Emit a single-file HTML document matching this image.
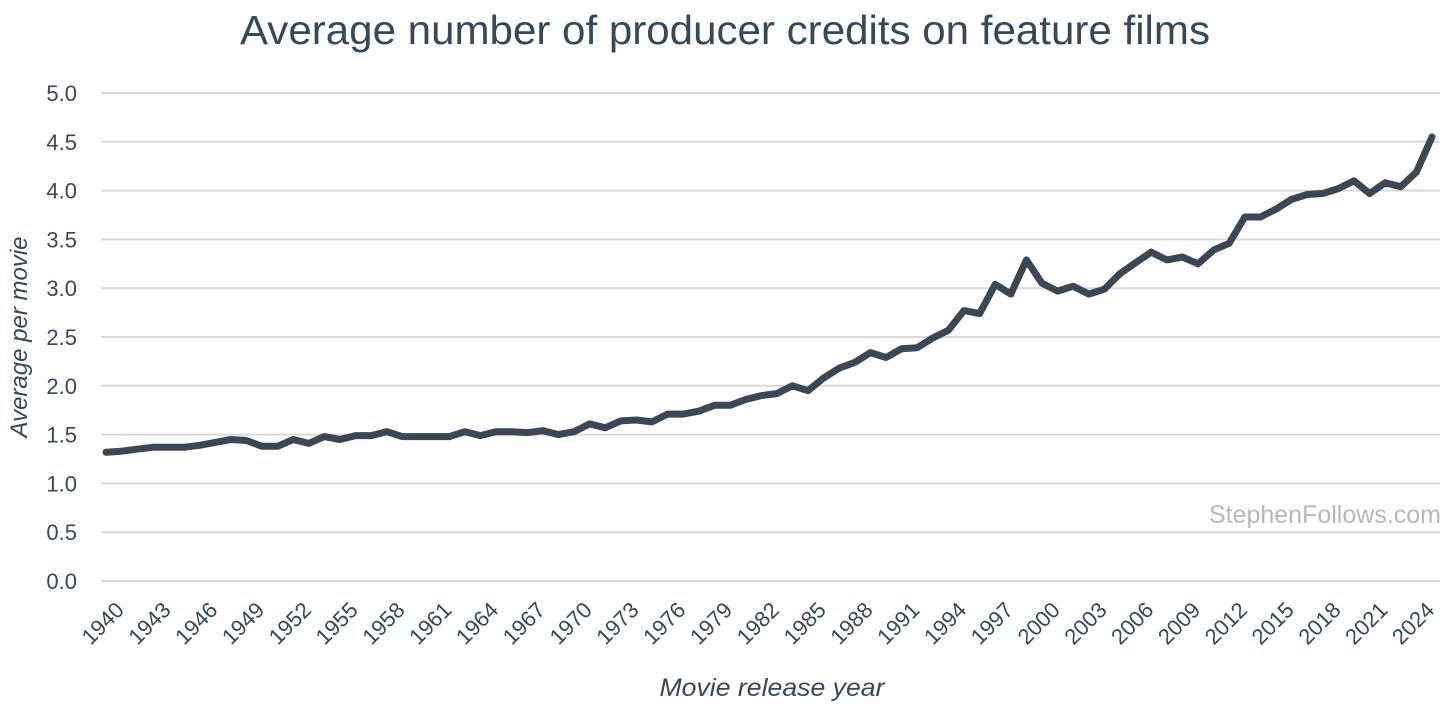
<!DOCTYPE html>
<html><head><meta charset="utf-8"><style>
html,body{margin:0;padding:0;background:#fff;}
svg{display:block;font-family:"Liberation Sans",sans-serif;}
</style></head><body>
<svg id="chart" width="1456" height="709" viewBox="0 0 1456 709">
<text x="725" y="44" text-anchor="middle" font-size="41" fill="#34495e" textLength="970" lengthAdjust="spacingAndGlyphs">Average number of producer credits on feature films</text>
<g id="grid"></g><g id="ylabels"></g><g id="xlabels"></g>
<text transform="translate(27,337) rotate(-90)" text-anchor="middle" font-size="24" font-style="italic" fill="#34495e">Average per movie</text>
<text x="772" y="696" text-anchor="middle" font-size="25" font-style="italic" fill="#34495e" textLength="225" lengthAdjust="spacingAndGlyphs">Movie release year</text>
<text x="1441" y="523" text-anchor="end" font-size="25" fill="#b8b8b8">StephenFollows.com</text>
<path id="line" fill="none" stroke="#3a4856" stroke-width="7" stroke-linejoin="round" stroke-linecap="round"></path>
</svg>
<script>
const startYear = 1940;
const values = [1.32,1.33,1.35,1.37,1.37,1.37,1.39,1.42,1.45,1.44,1.38,1.38,1.45,1.41,1.48,1.45,1.49,1.49,1.53,1.48,1.48,1.48,1.48,1.53,1.49,1.53,1.53,1.52,1.54,1.50,1.53,1.61,1.57,1.64,1.65,1.63,1.71,1.71,1.74,1.80,1.80,1.86,1.90,1.92,2.00,1.95,2.08,2.18,2.24,2.34,2.29,2.38,2.39,2.49,2.57,2.77,2.74,3.04,2.94,3.29,3.05,2.97,3.02,2.94,2.99,3.15,3.26,3.37,3.29,3.32,3.25,3.39,3.46,3.73,3.73,3.81,3.91,3.96,3.97,4.02,4.10,3.97,4.08,4.04,4.19,4.55];
const yTicks = ["0.0","0.5","1.0","1.5","2.0","2.5","3.0","3.5","4.0","4.5","5.0"];
const xTickStep = 3;

const NS = "http://www.w3.org/2000/svg";
const x0 = 106, x1 = 1432, yBase = 581, yTop = 93, yMax = 5;
function xs(i){ return x0 + (x1 - x0) * i / (values.length - 1); }
function ys(v){ return yBase - (yBase - yTop) * v / yMax; }
const grid = document.getElementById('grid'), yl = document.getElementById('ylabels'), xl = document.getElementById('xlabels');
yTicks.forEach(t => {
  const v = parseFloat(t);
  const ln = document.createElementNS(NS,'line');
  ln.setAttribute('x1',101); ln.setAttribute('x2',1440);
  ln.setAttribute('y1',ys(v)); ln.setAttribute('y2',ys(v));
  ln.setAttribute('stroke','#d9d9d9'); ln.setAttribute('stroke-width','2');
  
  
  grid.appendChild(ln);
  const tx = document.createElementNS(NS,'text');
  tx.setAttribute('x',77); tx.setAttribute('y',ys(v)+8);
  tx.setAttribute('text-anchor','end'); tx.setAttribute('font-size','22'); tx.setAttribute('fill','#34495e');
  tx.textContent = t;
  
  
  yl.appendChild(tx);
});
for (let i = 0; i < values.length; i += xTickStep) {
  const tx = document.createElementNS(NS,'text');
  const px = xs(i) + 8, py = 600;
  tx.setAttribute('transform','translate(' + px + ',' + py + ') rotate(-45)');
  tx.setAttribute('text-anchor','end'); tx.setAttribute('font-size','22'); tx.setAttribute('fill','#34495e');
  tx.setAttribute('dy','16');
  tx.textContent = String(startYear + i);
  
  
  xl.appendChild(tx);
}
document.getElementById('line').setAttribute('d', values.map((v,i) => (i ? 'L' : 'M') + xs(i).toFixed(1) + ',' + ys(v).toFixed(1)).join(''));
</script>
</body></html>
